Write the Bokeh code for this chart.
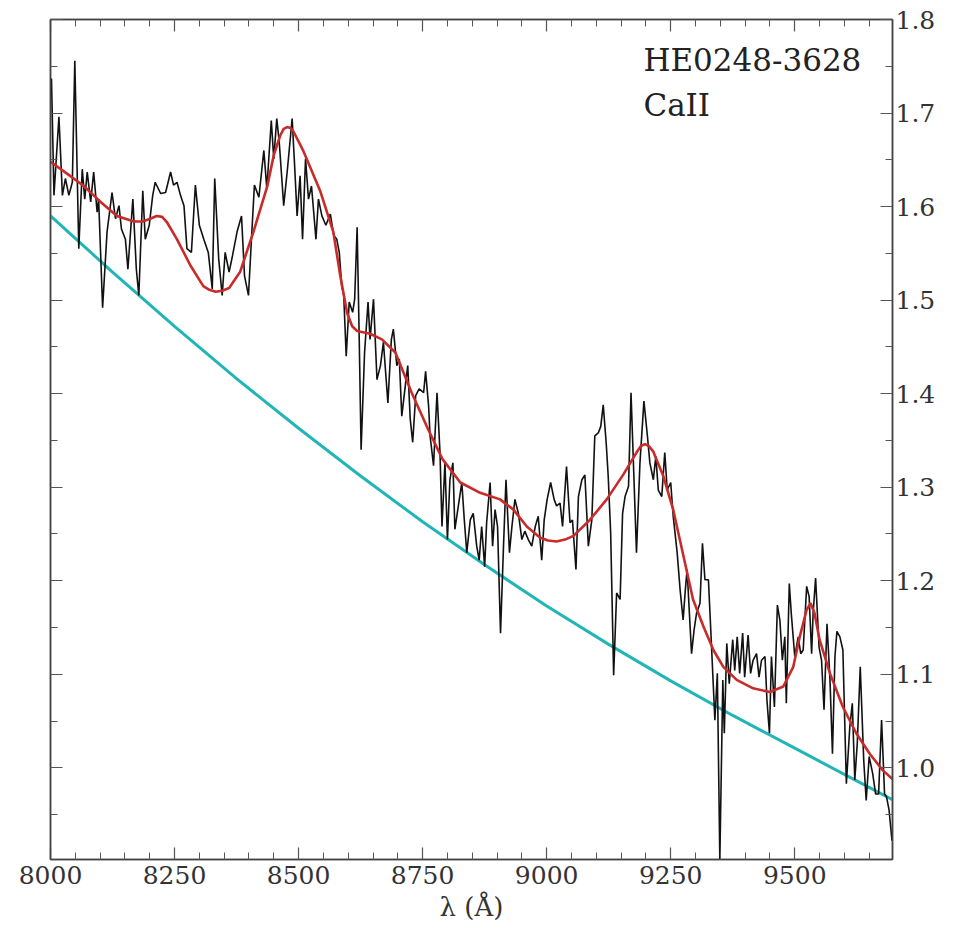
from bokeh.plotting import figure
from bokeh.models import LinearAxis, FixedTicker, PrintfTickFormatter, CustomJSTickFormatter, Label, Range1d
from bokeh.embed import file_html
from bokeh.resources import INLINE

# Observed spectrum (black)
wavelength = [8002, 8007, 8017, 8024, 8030, 8037, 8044, 8049, 8057, 8064, 8069, 8074, 8081, 8087,
              8094, 8097, 8105, 8114, 8124, 8131, 8138, 8143, 8151, 8156, 8166, 8173, 8178, 8186,
              8191, 8199, 8206, 8211, 8222, 8232, 8242, 8248, 8255, 8262, 8269, 8275, 8284, 8292,
              8300, 8309, 8318, 8326, 8331, 8339, 8346, 8352, 8360, 8367, 8376, 8385, 8391, 8399,
              8405, 8411, 8420, 8430, 8436, 8445, 8450, 8456, 8461, 8470, 8477, 8487, 8492, 8497,
              8503, 8508, 8514, 8520, 8526, 8530, 8535, 8540, 8547, 8555, 8564, 8571, 8577, 8582,
              8587, 8591, 8596, 8602, 8609, 8613, 8618, 8622, 8626, 8633, 8640, 8644, 8651, 8658,
              8665, 8671, 8680, 8687, 8691, 8698, 8703, 8708, 8715, 8720, 8725, 8730, 8736, 8743,
              8752, 8756, 8762, 8765, 8772, 8779, 8785, 8789, 8795, 8800, 8805, 8811, 8815, 8822,
              8829, 8834, 8839, 8846, 8852, 8859, 8864, 8869, 8875, 8879, 8886, 8891, 8896, 8901,
              8907, 8913, 8918, 8925, 8930, 8936, 8943, 8950, 8956, 8963, 8970, 8977, 8983, 8990,
              8995, 9001, 9008, 9015, 9020, 9027, 9032, 9040, 9047, 9052, 9059, 9064, 9071, 9077,
              9084, 9091, 9097, 9104, 9109, 9114, 9120, 9124, 9129, 9135, 9141, 9148, 9153, 9158,
              9165, 9170, 9176, 9181, 9188, 9196, 9203, 9208, 9215, 9220, 9225, 9232, 9238, 9243,
              9250, 9255, 9263, 9269, 9275, 9279, 9283, 9292, 9297, 9302, 9309, 9314, 9319, 9326,
              9332, 9339, 9344, 9349, 9355, 9358, 9363, 9368, 9375, 9379, 9384, 9389, 9395, 9399,
              9406, 9411, 9416, 9423, 9428, 9433, 9440, 9444, 9449, 9453, 9459, 9465, 9470, 9475,
              9480, 9483, 9489, 9493, 9500, 9507, 9512, 9517, 9524, 9529, 9534, 9537, 9542, 9549,
              9554, 9559, 9565, 9571, 9576, 9581, 9585, 9591, 9597, 9604, 9611, 9616, 9621, 9626,
              9632, 9639, 9644, 9650, 9657, 9663, 9669, 9675, 9681, 9685, 9690, 9696]
flux = [1.737, 1.612, 1.696, 1.612, 1.630, 1.612, 1.626, 1.756, 1.555, 1.640, 1.608, 1.637, 1.605, 1.637,
        1.594, 1.608, 1.492, 1.573, 1.615, 1.587, 1.601, 1.576, 1.565, 1.533, 1.608, 1.533, 1.505, 1.617,
        1.565, 1.580, 1.612, 1.626, 1.614, 1.615, 1.637, 1.623, 1.626, 1.612, 1.601, 1.555, 1.551, 1.623,
        1.580, 1.565, 1.551, 1.512, 1.630, 1.544, 1.505, 1.551, 1.530, 1.548, 1.573, 1.590, 1.526, 1.505,
        1.565, 1.623, 1.610, 1.660, 1.619, 1.692, 1.651, 1.694, 1.669, 1.601, 1.637, 1.694, 1.644, 1.590,
        1.633, 1.565, 1.651, 1.608, 1.622, 1.597, 1.565, 1.608, 1.590, 1.580, 1.592, 1.569, 1.565, 1.551,
        1.515, 1.505, 1.440, 1.498, 1.487, 1.501, 1.578, 1.465, 1.340, 1.444, 1.498, 1.458, 1.501, 1.415,
        1.430, 1.455, 1.390, 1.458, 1.469, 1.430, 1.437, 1.376, 1.408, 1.430, 1.373, 1.348, 1.398, 1.405,
        1.401, 1.424, 1.387, 1.355, 1.323, 1.401, 1.337, 1.258, 1.326, 1.244, 1.308, 1.326, 1.255, 1.280,
        1.305, 1.265, 1.230, 1.265, 1.272, 1.237, 1.222, 1.258, 1.215, 1.262, 1.305, 1.237, 1.276, 1.258,
        1.144, 1.237, 1.308, 1.230, 1.258, 1.287, 1.272, 1.244, 1.253, 1.244, 1.237, 1.258, 1.269, 1.222,
        1.265, 1.287, 1.305, 1.287, 1.280, 1.283, 1.258, 1.322, 1.262, 1.265, 1.212, 1.290, 1.308, 1.313,
        1.237, 1.265, 1.355, 1.358, 1.365, 1.388, 1.347, 1.312, 1.251, 1.099, 1.187, 1.180, 1.272, 1.290,
        1.301, 1.401, 1.308, 1.230, 1.326, 1.392, 1.355, 1.326, 1.308, 1.333, 1.297, 1.290, 1.337, 1.297,
        1.305, 1.269, 1.230, 1.190, 1.158, 1.187, 1.212, 1.122, 1.147, 1.165, 1.176, 1.240, 1.201, 1.201,
        1.133, 1.051, 1.101, 0.901, 1.094, 1.037, 1.133, 1.090, 1.137, 1.104, 1.140, 1.101, 1.144, 1.097,
        1.142, 1.101, 1.115, 1.122, 1.097, 1.115, 1.119, 1.072, 1.037, 1.119, 1.065, 1.174, 1.158, 1.115,
        1.140, 1.069, 1.197, 1.165, 1.119, 1.140, 1.122, 1.126, 1.194, 1.183, 1.122, 1.165, 1.203, 1.129,
        1.115, 1.062, 1.154, 1.094, 1.015, 1.119, 1.146, 1.140, 1.126, 0.983, 1.044, 1.069, 0.987, 1.026,
        1.108, 1.008, 0.965, 1.012, 0.994, 0.972, 0.972, 1.051, 0.972, 0.969, 0.955, 0.922]

# Smooth model fit (red)
model_wl = [8000, 8034, 8067, 8101, 8134, 8168, 8186, 8201, 8214, 8225, 8235, 8255, 8282, 8308, 8320,
            8333, 8346, 8360, 8382, 8409, 8437, 8450, 8463, 8470, 8477, 8484, 8490, 8510, 8544, 8570,
            8584, 8598, 8608, 8618, 8644, 8668, 8695, 8728, 8761, 8790, 8826, 8866, 8906, 8933, 8960,
            8987, 9003, 9020, 9037, 9054, 9087, 9121, 9155, 9181, 9190, 9198, 9206, 9215, 9235, 9255,
            9275, 9295, 9316, 9336, 9356, 9383, 9416, 9450, 9477, 9497, 9510, 9524, 9532, 9540, 9550,
            9571, 9597, 9624, 9651, 9678, 9697]
model_flux = [1.648, 1.635, 1.622, 1.605, 1.590, 1.584, 1.584, 1.587, 1.590, 1.589, 1.583, 1.565, 1.537,
              1.515, 1.511, 1.509, 1.510, 1.513, 1.530, 1.573, 1.622, 1.655, 1.676, 1.683, 1.685, 1.684,
              1.680, 1.659, 1.616, 1.573, 1.526, 1.486, 1.472, 1.467, 1.464, 1.458, 1.444, 1.401, 1.362,
              1.330, 1.305, 1.294, 1.287, 1.276, 1.258, 1.246, 1.243, 1.242, 1.244, 1.248, 1.265, 1.287,
              1.314, 1.337, 1.344, 1.346, 1.344, 1.338, 1.312, 1.276, 1.228, 1.180, 1.151, 1.126, 1.108,
              1.094, 1.085, 1.081, 1.087, 1.108, 1.140, 1.169, 1.176, 1.165, 1.137, 1.101, 1.065, 1.037,
              1.015, 0.997, 0.988]

# Continuum (cyan)
cont_wl = [8000, 8125, 8250, 8375, 8500, 8625, 8750, 8875, 9000, 9125, 9250, 9375, 9500, 9600, 9697]
cont_flux = [1.590, 1.530, 1.472, 1.416, 1.363, 1.312, 1.263, 1.217, 1.173, 1.132, 1.093, 1.056,
             1.021, 0.993, 0.966]

x_major = [8000, 8250, 8500, 8750, 9000, 9250, 9500]
x_minor = [8050, 8100, 8150, 8200, 8300, 8350, 8400, 8450, 8550, 8600, 8650, 8700, 8800, 8850, 8900,
           8950, 9050, 9100, 9150, 9200, 9300, 9350, 9400, 9450, 9550, 9600, 9650]
y_major = [1.0, 1.1, 1.2, 1.3, 1.4, 1.5, 1.6, 1.7, 1.8]
y_minor = [0.95, 1.05, 1.15, 1.25, 1.35, 1.45, 1.55, 1.65, 1.75]

FONT = "DejaVu Serif"

p = figure(width=955, height=930, output_backend="svg", toolbar_location=None,
           x_range=Range1d(8000, 9697), y_range=Range1d(0.902, 1.8),
           x_axis_location=None, y_axis_location=None,
           min_border_left=50, min_border_right=63, min_border_top=19, min_border_bottom=71,
           background_fill_color="white", border_fill_color="white")
p.grid.visible = False
p.outline_line_color = "#444444"
p.outline_line_width = 1.5

xt = FixedTicker(ticks=x_major, minor_ticks=x_minor)
yt = FixedTicker(ticks=y_major, minor_ticks=y_minor)
blank = CustomJSTickFormatter(code="return '';")


def style(ax, show_labels):
    ax.axis_line_color = "#444444"
    ax.axis_line_width = 1.5
    ax.major_tick_in = 12
    ax.major_tick_out = 0
    ax.minor_tick_in = 7
    ax.minor_tick_out = 0
    ax.major_tick_line_color = "#555555"
    ax.minor_tick_line_color = "#555555"
    ax.major_tick_line_width = 1.2
    ax.minor_tick_line_width = 1.0
    ax.major_label_text_font = FONT
    ax.major_label_text_color = "#333333"
    ax.major_label_text_font_size = "25px" if show_labels else "1px"
    ax.major_label_standoff = 0 if not show_labels else ax.major_label_standoff


bottom = LinearAxis(ticker=xt, axis_label="λ (Å)")
style(bottom, True)
bottom.major_label_standoff = 6
bottom.axis_label_standoff = 5
bottom.axis_label_text_font = FONT
bottom.axis_label_text_font_size = "26px"
bottom.axis_label_text_font_style = "normal"
bottom.axis_label_text_color = "#333333"
p.add_layout(bottom, "below")

top = LinearAxis(ticker=xt, formatter=blank)
style(top, False)
p.add_layout(top, "above")

left = LinearAxis(ticker=yt, formatter=blank)
style(left, False)
p.add_layout(left, "left")

right = LinearAxis(ticker=yt, formatter=PrintfTickFormatter(format="%.1f"))
style(right, True)
right.major_label_standoff = 3
p.add_layout(right, "right")

p.line(cont_wl, cont_flux, line_color="#22b5b8", line_width=3)
p.line(wavelength, flux, line_color="#111111", line_width=1.6)
p.line(model_wl, model_flux, line_color="#c92b2b", line_width=2.6)

p.add_layout(Label(x=9195, y=1.757, text="HE0248-3628", text_font=FONT, text_font_size="31px",
                   text_color="#222222", text_baseline="alphabetic"))
p.add_layout(Label(x=9195, y=1.709, text="CaII", text_font=FONT, text_font_size="31px",
                   text_color="#222222", text_baseline="alphabetic"))

open("out.html", "w").write(file_html(p, INLINE))
